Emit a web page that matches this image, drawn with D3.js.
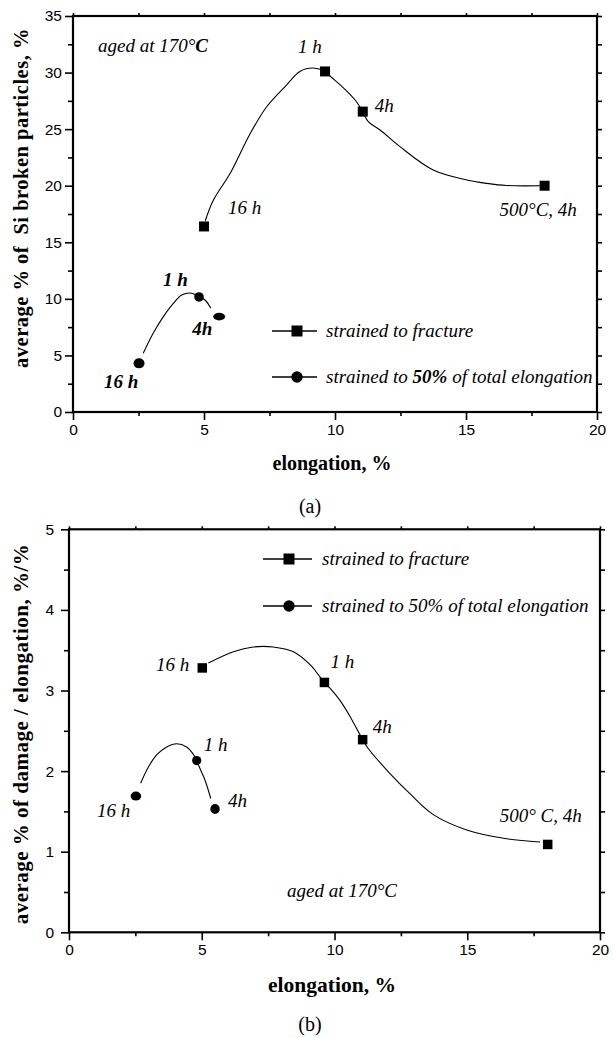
<!DOCTYPE html>
<html><head><meta charset="utf-8">
<script src="https://cdn.jsdelivr.net/npm/d3@7"></script>
<style>body{margin:0;background:#fff}</style>
</head><body><svg id="c" width="614" height="1038"></svg>
<script>
// ---------- shared axis ticks ----------
const xTicks = [0, 5, 10, 15, 20];
const xMinor = [2.5, 7.5, 12.5, 17.5];
const legendNames = ["strained to fracture", "strained to 50% of total elongation"];

// ---------- panel (a) ----------
const aYTicks = [0, 5, 10, 15, 20, 25, 30, 35];
const aYMinor = [2.5, 7.5, 12.5, 17.5, 22.5, 27.5, 32.5];
const aFracX = [5.0, 9.62, 11.06, 18.0];
const aFracY = [16.4, 30.1, 26.55, 20.0];
const aFracLbl = ["16 h", "1 h", "4h", "500°C, 4h"];
const aHalfX = [2.52, 4.81, 5.58];
const aHalfY = [4.3, 10.17, 8.43];
const aHalfLbl = ["16 h", "1 h", "4h"];
const aFracFit = [[5.05,16.9],[5.35,18.7],[6.0,21.1],[6.76,24.6],[7.4,27.0],[8.15,28.9],[8.66,30.1],[9.17,30.4],[9.62,30.1],[9.81,29.7],[10.3,28.7],[10.76,27.6],[11.06,26.55],[11.27,25.66],[11.72,24.92],[12.48,23.45],[13.75,21.39],[15.03,20.51],[15.79,20.21],[16.55,20.02],[17.82,20.0]];
const aHalfFit = [[2.68,5.19],[3.06,6.96],[3.45,8.43],[3.83,9.6],[4.15,10.34],[4.53,10.5],[4.81,10.17],[5.04,9.9],[5.26,9.17]];

// ---------- panel (b) ----------
const bYTicks = [0, 1, 2, 3, 4, 5];
const bYMinor = [0.5, 1.5, 2.5, 3.5, 4.5];
const bFracX = [5.02, 9.62, 11.06, 18.03];
const bFracY = [3.28, 3.10, 2.39, 1.09];
const bFracLbl = ["16 h", "1 h", "4h", "500° C, 4h"];
const bHalfX = [2.52, 4.81, 5.50];
const bHalfY = [1.69, 2.13, 1.53];
const bHalfLbl = ["16 h", "1 h", "4h"];
const bFracFit = [[5.25,3.34],[6.19,3.48],[6.94,3.54],[7.69,3.54],[8.45,3.48],[9.08,3.32],[9.45,3.17],[9.62,3.10],[9.83,3.03],[10.2,2.88],[10.58,2.68],[11.06,2.39],[11.27,2.28],[12.09,1.97],[12.84,1.72],[13.72,1.46],[14.98,1.27],[16.49,1.16],[17.74,1.12]];
const bHalfFit = [[2.70,1.85],[2.99,2.05],[3.30,2.20],[3.68,2.30],[4.06,2.34],[4.43,2.30],[4.66,2.22],[4.81,2.13],[4.91,2.05],[5.12,1.89],[5.34,1.66]];

// ---------- layout / style (pixels) ----------
const SERIF = "'Liberation Serif','Times New Roman',serif";
const SANS = "'Liberation Sans',Arial,sans-serif";

const panels = [
  {
    left: 73, right: 597, top: 16, bottom: 412, yMax: 35,
    yTicks: aYTicks, yMinor: aYMinor, yPad: 3,
    fracX: aFracX, fracY: aFracY, fracLbl: aFracLbl,
    halfX: aHalfX, halfY: aHalfY, halfLbl: aHalfLbl,
    fracFit: aFracFit, halfFit: aHalfFit,
    fracOff: [[24,-12,"start"],[-27,-18,"start"],[12,0,"start"],[-45,30,"start"]],
    halfOff: [[-35,25],[-36,-11],[-27,18]],
    halfRx: [5.5, 4.8, 6], halfRy: [5, 4.8, 3.8],
    halfBold: true, sq: 10,
    yLabel: "average % of  Si broken particles, %", yLabelY: 198, yLabelSize: 20.5,
    xLabelY: 470, xLabelSize: 20,
    legend: {x1: 272, x2: 317, mx: 297, y1: 331, y2: 377, tx: 326, boldPct: true},
    note: {x: 98, y: 52, boldC: true},
    caption: "(a)", capY: 513
  },
  {
    left: 69, right: 600, top: 529.3, bottom: 932.3, yMax: 5,
    yTicks: bYTicks, yMinor: bYMinor, yPad: 7,
    fracX: bFracX, fracY: bFracY, fracLbl: bFracLbl,
    halfX: bHalfX, halfY: bHalfY, halfLbl: bHalfLbl,
    fracFit: bFracFit, halfFit: bHalfFit,
    fracOff: [[-13,3,"end"],[6,-14,"start"],[10,-7,"start"],[-48,-22,"start"]],
    halfOff: [[-39,21],[7,-10],[13,-2]],
    halfRx: [5.3, 4.6, 4.7], halfRy: [4.5, 4.6, 5],
    halfBold: false, sq: 9.5,
    yLabel: "average % of damage / elongation, %/%", yLabelY: 734, yLabelSize: 21,
    xLabelY: 992, xLabelSize: 21.5,
    legend: {x1: 263, x2: 312, mx: 289, y1: 559, y2: 606, tx: 322, boldPct: false},
    note: {x: 287, y: 897, boldC: false},
    caption: "(b)", capY: 1031
  }
];

const svg = d3.select("#c");
svg.append("rect").attr("width", 614).attr("height", 1038).attr("fill", "#fff");

function drawPanel(P) {
  const g = svg.append("g");
  const x = d3.scaleLinear().domain([0, 20]).range([P.left, P.right]);
  const y = d3.scaleLinear().domain([0, P.yMax]).range([P.bottom, P.top]);

  function styleAxis(sel) {
    sel.select(".domain").remove();
    sel.selectAll(".tick line").attr("stroke", "#000").attr("stroke-width", 1.6);
    sel.selectAll(".tick text").attr("fill", "#000").style("font-family", SANS).style("font-size", "15.5px");
  }
  g.append("g").attr("transform", `translate(0,${P.bottom})`)
    .call(d3.axisBottom(x).tickValues(xTicks).tickSize(8).tickPadding(4).tickFormat(d3.format("d"))).call(styleAxis);
  g.append("g").attr("transform", `translate(0,${P.bottom})`)
    .call(d3.axisBottom(x).tickValues(xMinor).tickSize(4).tickFormat("")).call(styleAxis);
  g.append("g").attr("transform", `translate(0,${P.top})`)
    .call(d3.axisTop(x).tickValues(xTicks.concat(xMinor)).tickSize(3).tickFormat("")).call(styleAxis);
  g.append("g").attr("transform", `translate(${P.left},0)`)
    .call(d3.axisLeft(y).tickValues(P.yTicks).tickSize(8).tickPadding(P.yPad).tickFormat(d3.format("d"))).call(styleAxis);
  g.append("g").attr("transform", `translate(${P.left},0)`)
    .call(d3.axisLeft(y).tickValues(P.yMinor).tickSize(5).tickFormat("")).call(styleAxis);
  g.append("g").attr("transform", `translate(${P.right},0)`)
    .call(d3.axisRight(y).tickValues(P.yTicks.concat(P.yMinor)).tickSize(5).tickFormat("")).call(styleAxis);

  g.append("rect").attr("x", P.left).attr("y", P.top)
    .attr("width", P.right - P.left).attr("height", P.bottom - P.top)
    .attr("fill", "none").attr("stroke", "#000").attr("stroke-width", 2.2);

  const line = d3.line().x(d => x(d[0])).y(d => y(d[1])).curve(d3.curveCatmullRom.alpha(0.5));
  [P.fracFit, P.halfFit].forEach(pts => {
    g.append("path").attr("d", line(pts)).attr("fill", "none")
      .attr("stroke", "#000").attr("stroke-width", 1.1);
  });

  P.fracX.forEach((vx, i) => {
    g.append("rect").attr("x", x(vx) - P.sq / 2).attr("y", y(P.fracY[i]) - P.sq / 2)
      .attr("width", P.sq).attr("height", P.sq).attr("fill", "#000");
    const o = P.fracOff[i];
    g.append("text").attr("x", x(vx) + o[0]).attr("y", y(P.fracY[i]) + o[1])
      .attr("text-anchor", o[2]).style("font-family", SERIF).style("font-style", "italic")
      .style("font-size", "19px").style("white-space", "pre").text(P.fracLbl[i]);
  });
  P.halfX.forEach((vx, i) => {
    g.append("ellipse").attr("cx", x(vx)).attr("cy", y(P.halfY[i]))
      .attr("rx", P.halfRx[i]).attr("ry", P.halfRy[i]).attr("fill", "#000");
    const o = P.halfOff[i];
    g.append("text").attr("x", x(vx) + o[0]).attr("y", y(P.halfY[i]) + o[1])
      .style("font-family", SERIF).style("font-style", "italic")
      .style("font-weight", P.halfBold ? "bold" : "normal")
      .style("font-size", "19px").style("white-space", "pre").text(P.halfLbl[i]);
  });

  const L = P.legend;
  [L.y1, L.y2].forEach((ly, i) => {
    g.append("line").attr("x1", L.x1).attr("x2", L.x2).attr("y1", ly).attr("y2", ly)
      .attr("stroke", "#000").attr("stroke-width", 1.4);
    if (i === 0) {
      g.append("rect").attr("x", L.mx - 5.5).attr("y", ly - 5.5).attr("width", 11).attr("height", 11).attr("fill", "#000");
    } else {
      g.append("circle").attr("cx", L.mx).attr("cy", ly).attr("r", 5.7).attr("fill", "#000");
    }
    const t = g.append("text").attr("x", L.tx).attr("y", ly + 6)
      .style("font-family", SERIF).style("font-style", "italic").style("font-size", "19px")
      .style("white-space", "pre");
    const name = legendNames[i];
    if (L.boldPct && name.includes("50%")) {
      const parts = name.split("50%");
      t.append("tspan").text(parts[0]);
      t.append("tspan").style("font-weight", "bold").text("50%");
      t.append("tspan").text(parts[1]);
    } else {
      t.text(name);
    }
  });

  const N = P.note;
  const nt = g.append("text").attr("x", N.x).attr("y", N.y)
    .style("font-family", SERIF).style("font-style", "italic").style("font-size", "19px");
  if (N.boldC) {
    nt.append("tspan").text("aged at 170°");
    nt.append("tspan").style("font-weight", "bold").text("C");
  } else {
    nt.text("aged at 170°C");
  }

  g.append("text").attr("transform", `translate(28,${P.yLabelY}) rotate(-90)`)
    .attr("text-anchor", "middle").style("font-family", SERIF).style("font-weight", "bold")
    .style("font-size", P.yLabelSize + "px").style("letter-spacing", "0.5px").style("white-space", "pre")
    .text(P.yLabel);
  g.append("text").attr("x", 332).attr("y", P.xLabelY).attr("text-anchor", "middle")
    .style("font-family", SERIF).style("font-weight", "bold").style("font-size", P.xLabelSize + "px")
    .text("elongation, %");
  g.append("text").attr("x", 310).attr("y", P.capY).attr("text-anchor", "middle")
    .style("font-family", SERIF).style("font-size", "20px").text(P.caption);
}

panels.forEach(drawPanel);
</script>
</body></html>
